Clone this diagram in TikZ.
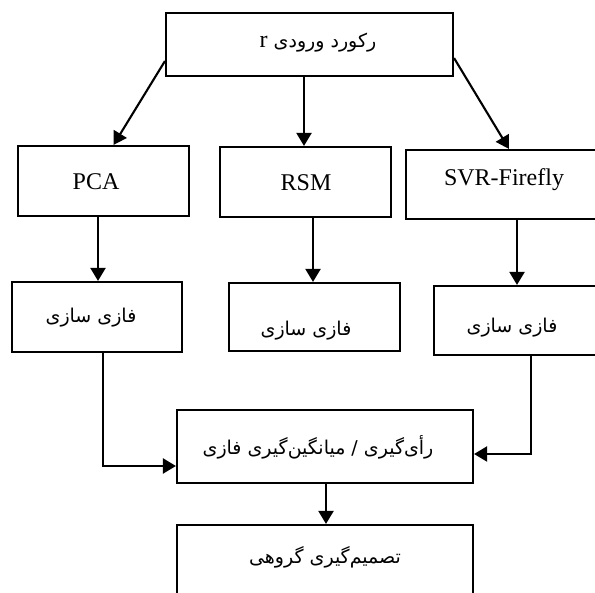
\documentclass[tikz,border=0pt]{standalone}
\usepackage{fontspec}
\setmainfont{Liberation Serif}
\newfontfamily\fa[Script=Arabic]{DejaVu Sans}
\TeXXeTstate=1
\usetikzlibrary{arrows.meta,fit}
\begin{document}
\begin{tikzpicture}[x=1pt,y=-1pt,
  box/.style={draw,line width=2.1pt,inner sep=0pt},
  arr/.style={line width=2.1pt,-{Triangle[length=13pt,width=15pt]}},
  lat/.style={font=\fontsize{24}{28}\selectfont,inner sep=0pt},
  per/.style={font=\fa\fontsize{19}{24}\selectfont,inner sep=0pt}]
\clip (0,0) rectangle (595,593);
\fill[white] (0,0) rectangle (595,593);
% boxes
\node[box,fit={(166,13) (453,76)}] (top) {};
\node[box,fit={(18,146) (189,216)}] (pca) {};
\node[box,fit={(220,147) (391,217)}] (rsm) {};
\node[box,fit={(406,150) (612,219)}] (svr) {};
\node[box,fit={(12,282) (182,352)}] (fz1) {};
\node[box,fit={(229,283) (400,351)}] (fz2) {};
\node[box,fit={(434,286) (612,355)}] (fz3) {};
\node[box,fit={(177,410) (473,483)}] (vote) {};
\node[box,fit={(177,525) (473,612)}] (fin) {};
% texts
\node[per] (topT) at (318,43) {\beginR رکورد ورودی {\rmfamily\fontsize{24}{28}\selectfont r}\endR};
\node[lat] (pcaT) at (96,182) {PCA};
\node[lat] (rsmT) at (306,183) {RSM};
\node[lat] (svrT) at (504,180) {SVR-Firefly};
\node[per] (fz1T) at (91,318) {\beginR فازی سازی\endR};
\begin{scope}
\clip (fz2.north west) rectangle ([yshift=13pt]fz2.south east);
\node[per,anchor=base] (fz2T) at (306,336) {\beginR فازی سازی\endR};
\end{scope}
\node[per] (fz3T) at (512,328) {\beginR فازی سازی\endR};
\node[per] (voteT) at (318,447) {\beginR رأی^^^^200cگیری / میانگین^^^^200cگیری فازی\endR};
\node[per] (finT) at (325,557) {\beginR تصمیم^^^^200cگیری گروهی\endR};
% connectors
\draw[arr] ([yshift=16pt]top.south west) -- ([xshift=10pt]pca.north);
\draw[arr] ([xshift=-5.5pt]top.south) -- ([xshift=-1.5pt]rsm.north);
\draw[arr] ([yshift=19pt]top.south east) -- (svr.north);
\draw[arr] ([xshift=-5.5pt]pca.south) -- ([xshift=1pt]fz1.north);
\draw[arr] ([xshift=7.5pt]rsm.south) -- ([xshift=-1.5pt]fz2.north);
\draw[arr] ([xshift=8pt]svr.south) -- ([xshift=-6pt]fz3.north);
\draw[arr] ([xshift=6pt]fz1.south) |- ([yshift=-19.5pt]vote.west);
\draw[arr] ([xshift=8pt]fz3.south) |- ([yshift=-7.5pt]vote.east);
\draw[arr] ([xshift=1pt]vote.south) -- ([xshift=1pt]fin.north);
\end{tikzpicture}
\end{document}
